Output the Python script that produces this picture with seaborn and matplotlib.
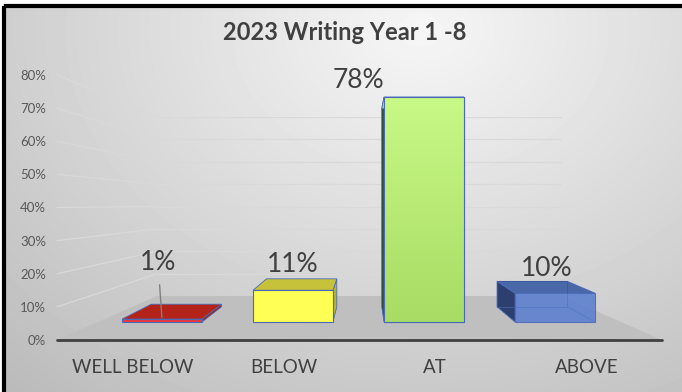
import numpy as np
import matplotlib
matplotlib.use("Agg")
import matplotlib.pyplot as plt
import seaborn as sns
from matplotlib.patches import Polygon, Rectangle, ConnectionPatch
from matplotlib.colors import LinearSegmentedColormap

# ---------------- data ----------------
categories = ["WELL BELOW", "BELOW", "AT", "ABOVE"]
values = [0.01, 0.11, 0.78, 0.10]
value_labels = ["1%", "11%", "78%", "10%"]
tick_values = [0.0, 0.1, 0.2, 0.3, 0.4, 0.5, 0.6, 0.7, 0.8]
tick_labels = ["0%", "10%", "20%", "30%", "40%", "50%", "60%", "70%", "80%"]
title = "2023 Writing Year 1 -8"

# ---------------- style ----------------
front_colors = ["#e8383d", "#ffff55", "#c2f27e", "#5b7fcf"]
top_colors = ["#b3231a", "#c6c23a", "#b4e670", "#4a67a8"]
side_colors = ["#9c1e16", "#b8b432", "#2f4a1c", "#2c3f6e"]
translucent = [False, False, False, True]
edge_color = "#4a6ab8"
label_offsets = [(-4, 57), (0, 26), (-66, 17), (-8, 25)]  # pixels
text_dark = "#404040"

sns.set_theme(style="white")
plt.rcParams['font.family'] = ['Lato', 'DejaVu Sans']

W, H = 682, 392
fig = plt.figure(figsize=(W / 100, H / 100), dpi=100)


def px(x0, y0, x1, y1):
    """pixel box (y from top) -> figure rect"""
    return [x0 / W, 1 - y1 / H, (x1 - x0) / W, (y1 - y0) / H]


# background gradient + frame
ax_bg = fig.add_axes([0, 0, 1, 1], zorder=-5)
ax_bg.axis("off")
yy, xx = np.mgrid[0:H, 0:W]
d = np.sqrt(((xx - 420) / 560.0) ** 2 + ((yy - 30) / 430.0) ** 2)
g = 0.965 - 0.21 * np.clip(d, 0, 1.3)
ax_bg.imshow(g, cmap="gray", vmin=0, vmax=1, extent=[0, W, H, 0], aspect="auto")
ax_bg.set_xlim(0, W)
ax_bg.set_ylim(H, 0)
ax_bg.add_patch(Rectangle((0, 0), W, 4, color="white", lw=0))
ax_bg.add_patch(Rectangle((0, 0), 2.5, H, color="white", lw=0))
ax_bg.add_patch(Rectangle((4, 6), W + 10, H + 10, fill=False, lw=3, ec="black"))

# back wall
ax_back = fig.add_axes(px(157, 117, 562, 296), zorder=0)
ax_back.set_xlim(0, 1)
ax_back.set_ylim(0, 0.8)
ax_back.axis("off")
ax_back.hlines(tick_values[1:], 0, 1, color="#d9d9d9", lw=0.9)

# front reference axes (value axis labels, category labels, floor)
ax_front = fig.add_axes(px(57, 75, 662, 340), zorder=1)
ax_front.set_xlim(-0.5, len(categories) - 0.5)
ax_front.set_ylim(0, 0.8)
ax_front.patch.set_visible(False)
for s in ax_front.spines.values():
    s.set_visible(False)
ax_front.set_xticks(range(len(categories)), categories)
ax_front.set_yticks(tick_values, tick_labels)
ax_front.tick_params(axis="y", length=0, pad=8, labelsize=9.5, labelcolor="#595959")
ax_front.tick_params(axis="x", length=0, pad=14, labelsize=13.5, labelcolor=text_dark)

for v in tick_values[1:]:
    cp = ConnectionPatch(xyA=(0, v), coordsA=ax_front.get_yaxis_transform(),
                         xyB=(0, v), coordsB=ax_back.get_yaxis_transform(),
                         color="#d9d9d9", lw=0.9, zorder=0.5)
    ax_front.add_artist(cp)

inv_front = ax_front.transData.inverted()
floor_disp = [ax_front.transAxes.transform((0, 0)),
              ax_front.transAxes.transform((1, 0)),
              ax_back.transAxes.transform((1, 0)),
              ax_back.transAxes.transform((0, 0))]
floor = Polygon(inv_front.transform(np.array(floor_disp)), closed=True,
                fc="#bfbfbf", ec="none", zorder=0.3, clip_on=False)
ax_front.add_patch(floor)
ax_front.axhline(0, color="#404040", lw=2, clip_on=False, zorder=1)

# bars
ax_bar = fig.add_axes(px(96.5, 75, 620.5, 322), zorder=2)
sns.barplot(x=categories, y=values, hue=categories, palette=front_colors,
            legend=False, width=0.61, saturation=1, ax=ax_bar,
            edgecolor=edge_color, linewidth=0.8)
ax_bar.set_xlim(-0.5, len(categories) - 0.5)
ax_bar.set_ylim(0, 0.78 * 247 / 225)
ax_bar.patch.set_visible(False)
for s in ax_bar.spines.values():
    s.set_visible(False)
ax_bar.set_yticks([])
ax_bar.set_xticks([])
ax_bar.set_xlabel("")
ax_bar.set_ylabel("")

# 3-D faces computed from the seaborn bar geometry
vp = fig.transFigure.transform((365 / W, 1 - 195 / H))
t = 0.12
inv_bar = ax_bar.transData.inverted()


def back(p):
    return p + t * (vp - p)


def add_poly(poly, **kw):
    ax_bar.add_patch(Polygon(inv_bar.transform(np.array(poly)), closed=True,
                             clip_on=False, **kw))


bars = list(ax_bar.patches[:len(categories)])
for i, patch in enumerate(bars):
    x0, w, h = patch.get_x(), patch.get_width(), patch.get_height()
    BL = ax_bar.transData.transform((x0, 0))
    BR = ax_bar.transData.transform((x0 + w, 0))
    TL = ax_bar.transData.transform((x0, h))
    TR = ax_bar.transData.transform((x0 + w, h))
    top = [TL, TR, back(TR), back(TL)]
    if back(TL)[0] > TL[0]:
        side = [BR, TR, back(TR), back(BR)]
    else:
        side = [BL, TL, back(TL), back(BL)]
    add_poly(side, fc=side_colors[i], ec=edge_color, lw=0.6, zorder=1)
    add_poly(top, fc=top_colors[i], ec=edge_color, lw=0.6, zorder=1.1)
    if translucent[i]:
        # hidden back edges visible through the translucent front face
        hidden = [back(BL), back(BR), back(TR), back(TL)]
        add_poly(hidden, fc="none", ec="#3d5a9e", lw=0.7, zorder=1.2)
        add_poly([BR, back(BR), back(BR), BR], fc="none", ec="#3d5a9e",
                 lw=0.7, zorder=1.2)
        patch.set_alpha(0.88)
    patch.set_zorder(2)
    patch.set_clip_on(False)

    cx = x0 + w / 2
    arrow = None
    if i == 0:
        arrow = dict(arrowstyle="-", color="#808080", lw=1, shrinkA=5, shrinkB=1)
    ax_bar.annotate(value_labels[i], xy=(cx, h), xytext=label_offsets[i],
                    textcoords="offset pixels", ha="center", va="center",
                    fontsize=19, color=text_dark, arrowprops=arrow,
                    annotation_clip=False, zorder=3)

# soft vertical gradient on the green bar front
green = bars[2]
gx0, gw, gh = green.get_x(), green.get_width(), green.get_height()
grad = np.linspace(0, 1, 100).reshape(-1, 1)
gcmap = LinearSegmentedColormap.from_list("g", ["#a8dc64", "#c8f886"])
im = ax_bar.imshow(grad, cmap=gcmap, extent=[gx0, gx0 + gw, 0, gh],
                   origin="lower", aspect="auto", zorder=2.05)
im.set_clip_path(green)
ax_bar.set_xlim(-0.5, len(categories) - 0.5)
ax_bar.set_ylim(0, 0.78 * 247 / 225)
ax_bar.add_patch(Rectangle((gx0, 0), gw, gh, fill=False, ec=edge_color, lw=0.8,
                           zorder=2.1, clip_on=False))

fig.text(345 / W, 1 - 33 / H, title, ha="center", va="center",
         fontsize=17, fontweight="bold", color=text_dark)

fig.savefig("out.png", dpi=100)
